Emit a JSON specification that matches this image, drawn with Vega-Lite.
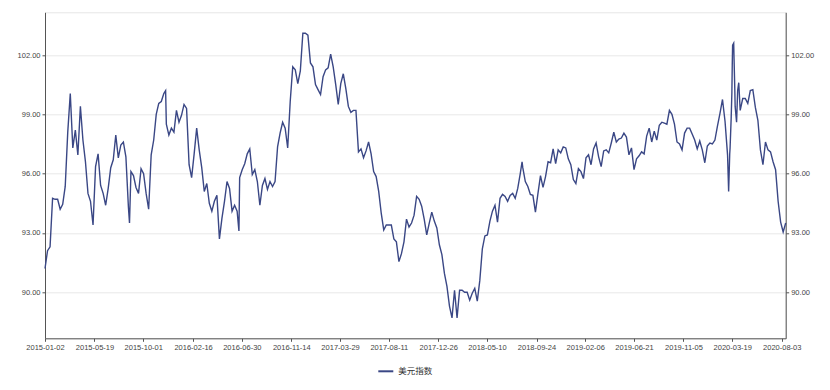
{
 "$schema": "https://vega.github.io/schema/vega-lite/v6.json",
 "width": 740.7,
 "height": 326,
 "autosize": {"type": "none"},
 "padding": {"left": 45, "top": 12.3, "right": 44.3, "bottom": 51.7},
 "background": "white",
 "config": {
  "font": "Liberation Sans",
  "view": {"stroke": "#e6e6e6", "strokeWidth": 1},
  "axis": {
   "labelFont": "Liberation Sans",
   "labelFontSize": 7.5,
   "labelColor": "#444444",
   "domainColor": "#555555",
   "tickColor": "#555555",
   "tickSize": 3,
   "labelPadding": 2,
   "title": null,
   "gridColor": "#e8e8e8",
   "gridWidth": 1
  }
 },
 "data": {"values": [
  {"date":"2015-01-02","v":91.2},{"date":"2015-01-09","v":92.1},{"date":"2015-01-16","v":92.3},{"date":"2015-01-23","v":94.75},{"date":"2015-01-30","v":94.7},
  {"date":"2015-02-06","v":94.7},{"date":"2015-02-13","v":94.2},{"date":"2015-02-20","v":94.45},{"date":"2015-02-27","v":95.35},
  {"date":"2015-03-06","v":98.1},{"date":"2015-03-13","v":100.05},{"date":"2015-03-20","v":97.3},{"date":"2015-03-27","v":98.2},
  {"date":"2015-04-03","v":96.95},{"date":"2015-04-10","v":99.4},{"date":"2015-04-17","v":97.7},{"date":"2015-04-24","v":96.6},
  {"date":"2015-05-01","v":95.0},{"date":"2015-05-08","v":94.6},{"date":"2015-05-15","v":93.4},{"date":"2015-05-22","v":96.35},{"date":"2015-05-29","v":97.0},
  {"date":"2015-06-05","v":95.4},{"date":"2015-06-12","v":95.0},{"date":"2015-06-19","v":94.4},{"date":"2015-06-26","v":95.25},
  {"date":"2015-07-03","v":96.3},{"date":"2015-07-10","v":96.7},{"date":"2015-07-17","v":97.95},{"date":"2015-07-24","v":96.8},{"date":"2015-07-31","v":97.45},
  {"date":"2015-08-07","v":97.6},{"date":"2015-08-14","v":96.85},{"date":"2015-08-21","v":94.3},{"date":"2015-08-24","v":93.5},{"date":"2015-08-28","v":96.1},
  {"date":"2015-09-04","v":95.9},{"date":"2015-09-11","v":95.3},{"date":"2015-09-18","v":95.0},{"date":"2015-09-25","v":96.25},
  {"date":"2015-10-02","v":96.0},{"date":"2015-10-09","v":95.0},{"date":"2015-10-16","v":94.2},{"date":"2015-10-23","v":96.95},{"date":"2015-10-30","v":97.7},
  {"date":"2015-11-06","v":99.0},{"date":"2015-11-13","v":99.55},{"date":"2015-11-20","v":99.65},{"date":"2015-11-27","v":100.05},
  {"date":"2015-12-02","v":100.2},{"date":"2015-12-04","v":98.5},{"date":"2015-12-11","v":97.95},{"date":"2015-12-18","v":98.3},{"date":"2015-12-25","v":98.1},
  {"date":"2016-01-01","v":99.2},{"date":"2016-01-08","v":98.6},{"date":"2016-01-15","v":98.95},{"date":"2016-01-22","v":99.5},{"date":"2016-01-29","v":99.3},
  {"date":"2016-02-05","v":96.45},{"date":"2016-02-12","v":95.8},{"date":"2016-02-19","v":97.0},{"date":"2016-02-26","v":98.3},
  {"date":"2016-03-04","v":97.2},{"date":"2016-03-11","v":96.3},{"date":"2016-03-18","v":95.1},{"date":"2016-03-25","v":95.5},
  {"date":"2016-04-01","v":94.5},{"date":"2016-04-08","v":94.1},{"date":"2016-04-15","v":94.6},{"date":"2016-04-22","v":94.9},{"date":"2016-04-29","v":92.7},
  {"date":"2016-05-06","v":93.75},{"date":"2016-05-13","v":94.6},{"date":"2016-05-20","v":95.6},{"date":"2016-05-27","v":95.25},
  {"date":"2016-06-03","v":94.1},{"date":"2016-06-10","v":94.4},{"date":"2016-06-17","v":94.1},{"date":"2016-06-22","v":93.1},{"date":"2016-06-24","v":95.8},
  {"date":"2016-07-01","v":96.2},{"date":"2016-07-08","v":96.5},{"date":"2016-07-15","v":97.0},{"date":"2016-07-22","v":97.25},{"date":"2016-07-29","v":95.95},
  {"date":"2016-08-05","v":96.2},{"date":"2016-08-12","v":95.6},{"date":"2016-08-19","v":94.4},{"date":"2016-08-26","v":95.4},
  {"date":"2016-09-02","v":95.75},{"date":"2016-09-09","v":95.2},{"date":"2016-09-16","v":95.6},{"date":"2016-09-23","v":95.35},{"date":"2016-09-30","v":95.6},
  {"date":"2016-10-07","v":97.35},{"date":"2016-10-14","v":98.05},{"date":"2016-10-21","v":98.6},{"date":"2016-10-28","v":98.3},
  {"date":"2016-11-04","v":97.3},{"date":"2016-11-11","v":99.65},{"date":"2016-11-18","v":101.4},{"date":"2016-11-25","v":101.25},
  {"date":"2016-12-02","v":100.55},{"date":"2016-12-09","v":101.2},{"date":"2016-12-16","v":103.1},{"date":"2016-12-23","v":103.1},{"date":"2016-12-30","v":103.0},
  {"date":"2017-01-06","v":101.6},{"date":"2017-01-13","v":101.4},{"date":"2017-01-20","v":100.5},{"date":"2017-01-27","v":100.25},
  {"date":"2017-02-03","v":100.0},{"date":"2017-02-10","v":100.9},{"date":"2017-02-17","v":101.25},{"date":"2017-02-24","v":101.35},
  {"date":"2017-03-03","v":102.05},{"date":"2017-03-10","v":101.4},{"date":"2017-03-17","v":100.5},{"date":"2017-03-24","v":99.5},{"date":"2017-03-31","v":100.55},
  {"date":"2017-04-07","v":101.05},{"date":"2017-04-14","v":100.3},{"date":"2017-04-21","v":99.4},{"date":"2017-04-28","v":99.1},
  {"date":"2017-05-05","v":99.2},{"date":"2017-05-12","v":99.2},{"date":"2017-05-19","v":97.1},{"date":"2017-05-26","v":97.25},
  {"date":"2017-06-02","v":96.8},{"date":"2017-06-09","v":97.15},{"date":"2017-06-16","v":97.6},{"date":"2017-06-23","v":97.0},{"date":"2017-06-30","v":96.1},
  {"date":"2017-07-07","v":95.85},{"date":"2017-07-14","v":95.1},{"date":"2017-07-21","v":94.0},{"date":"2017-07-28","v":93.15},
  {"date":"2017-08-04","v":93.4},{"date":"2017-08-11","v":93.4},{"date":"2017-08-18","v":93.4},{"date":"2017-08-25","v":92.7},
  {"date":"2017-09-01","v":92.55},{"date":"2017-09-08","v":91.55},{"date":"2017-09-15","v":91.95},{"date":"2017-09-22","v":92.55},{"date":"2017-09-29","v":93.7},
  {"date":"2017-10-06","v":93.3},{"date":"2017-10-13","v":93.5},{"date":"2017-10-20","v":93.9},{"date":"2017-10-27","v":94.85},
  {"date":"2017-11-03","v":94.7},{"date":"2017-11-10","v":94.35},{"date":"2017-11-17","v":93.7},{"date":"2017-11-24","v":92.9},
  {"date":"2017-12-01","v":93.5},{"date":"2017-12-08","v":94.05},{"date":"2017-12-15","v":93.6},{"date":"2017-12-22","v":93.25},{"date":"2017-12-29","v":92.4},
  {"date":"2018-01-05","v":91.9},{"date":"2018-01-12","v":90.95},{"date":"2018-01-19","v":90.3},{"date":"2018-01-26","v":89.3},
  {"date":"2018-02-02","v":88.7},{"date":"2018-02-09","v":90.1},{"date":"2018-02-16","v":88.7},{"date":"2018-02-23","v":90.1},
  {"date":"2018-03-02","v":90.1},{"date":"2018-03-09","v":90.0},{"date":"2018-03-16","v":90.0},{"date":"2018-03-23","v":89.6},{"date":"2018-03-30","v":89.95},
  {"date":"2018-04-06","v":90.2},{"date":"2018-04-13","v":89.55},{"date":"2018-04-20","v":90.6},{"date":"2018-04-27","v":92.2},
  {"date":"2018-05-04","v":92.85},{"date":"2018-05-11","v":92.9},{"date":"2018-05-18","v":93.6},{"date":"2018-05-25","v":94.1},
  {"date":"2018-06-01","v":94.4},{"date":"2018-06-08","v":93.55},{"date":"2018-06-15","v":94.75},{"date":"2018-06-22","v":94.95},{"date":"2018-06-29","v":94.85},
  {"date":"2018-07-06","v":94.6},{"date":"2018-07-13","v":94.9},{"date":"2018-07-20","v":95.0},{"date":"2018-07-27","v":94.75},
  {"date":"2018-08-03","v":95.25},{"date":"2018-08-10","v":96.0},{"date":"2018-08-15","v":96.6},{"date":"2018-08-17","v":96.3},{"date":"2018-08-24","v":95.6},{"date":"2018-08-31","v":95.35},
  {"date":"2018-09-07","v":94.95},{"date":"2018-09-14","v":94.9},{"date":"2018-09-21","v":94.05},{"date":"2018-09-28","v":95.0},
  {"date":"2018-10-05","v":95.9},{"date":"2018-10-12","v":95.3},{"date":"2018-10-19","v":95.85},{"date":"2018-10-26","v":96.6},
  {"date":"2018-11-02","v":96.55},{"date":"2018-11-09","v":97.25},{"date":"2018-11-16","v":96.5},{"date":"2018-11-23","v":97.2},{"date":"2018-11-30","v":97.05},
  {"date":"2018-12-07","v":97.35},{"date":"2018-12-14","v":97.3},{"date":"2018-12-21","v":96.75},{"date":"2018-12-28","v":96.45},
  {"date":"2019-01-04","v":95.7},{"date":"2019-01-11","v":95.5},{"date":"2019-01-18","v":96.25},{"date":"2019-01-25","v":96.1},
  {"date":"2019-02-01","v":95.75},{"date":"2019-02-08","v":96.8},{"date":"2019-02-15","v":96.95},{"date":"2019-02-22","v":96.45},
  {"date":"2019-03-01","v":97.25},{"date":"2019-03-08","v":97.55},{"date":"2019-03-15","v":96.85},{"date":"2019-03-22","v":96.35},{"date":"2019-03-29","v":97.15},
  {"date":"2019-04-05","v":97.2},{"date":"2019-04-12","v":97.05},{"date":"2019-04-19","v":97.55},{"date":"2019-04-26","v":98.1},
  {"date":"2019-05-03","v":97.6},{"date":"2019-05-10","v":97.75},{"date":"2019-05-17","v":97.8},{"date":"2019-05-24","v":98.05},{"date":"2019-05-31","v":97.85},
  {"date":"2019-06-07","v":96.95},{"date":"2019-06-14","v":97.3},{"date":"2019-06-21","v":96.2},{"date":"2019-06-28","v":96.75},
  {"date":"2019-07-05","v":96.9},{"date":"2019-07-12","v":97.1},{"date":"2019-07-19","v":97.0},{"date":"2019-07-26","v":97.9},
  {"date":"2019-08-02","v":98.3},{"date":"2019-08-09","v":97.6},{"date":"2019-08-16","v":98.15},{"date":"2019-08-23","v":97.7},{"date":"2019-08-30","v":98.45},
  {"date":"2019-09-06","v":98.6},{"date":"2019-09-13","v":98.55},{"date":"2019-09-20","v":98.5},{"date":"2019-09-27","v":99.2},
  {"date":"2019-10-04","v":99.0},{"date":"2019-10-11","v":98.5},{"date":"2019-10-18","v":97.6},{"date":"2019-10-25","v":97.5},
  {"date":"2019-11-01","v":97.2},{"date":"2019-11-08","v":98.05},{"date":"2019-11-15","v":98.3},{"date":"2019-11-22","v":98.3},{"date":"2019-11-29","v":98.0},
  {"date":"2019-12-06","v":97.7},{"date":"2019-12-13","v":97.25},{"date":"2019-12-20","v":97.65},{"date":"2019-12-27","v":97.2},
  {"date":"2020-01-03","v":96.55},{"date":"2020-01-10","v":97.4},{"date":"2020-01-17","v":97.55},{"date":"2020-01-24","v":97.5},{"date":"2020-01-31","v":97.7},
  {"date":"2020-02-07","v":98.4},{"date":"2020-02-14","v":99.05},{"date":"2020-02-21","v":99.75},{"date":"2020-02-28","v":98.65},
  {"date":"2020-03-06","v":96.95},{"date":"2020-03-09","v":95.1},{"date":"2020-03-12","v":97.0},{"date":"2020-03-13","v":97.3},{"date":"2020-03-16","v":98.8},
  {"date":"2020-03-18","v":100.1},{"date":"2020-03-19","v":101.5},{"date":"2020-03-20","v":102.5},{"date":"2020-03-23","v":102.6},{"date":"2020-03-24","v":101.8},
  {"date":"2020-03-26","v":100.3},{"date":"2020-03-27","v":99.4},{"date":"2020-03-31","v":98.6},
  {"date":"2020-04-03","v":100.2},{"date":"2020-04-06","v":100.6},{"date":"2020-04-10","v":99.2},{"date":"2020-04-17","v":99.8},{"date":"2020-04-24","v":99.8},
  {"date":"2020-05-01","v":99.55},{"date":"2020-05-08","v":100.2},{"date":"2020-05-15","v":100.25},{"date":"2020-05-22","v":99.35},{"date":"2020-05-29","v":98.7},
  {"date":"2020-06-05","v":97.2},{"date":"2020-06-12","v":96.45},{"date":"2020-06-19","v":97.6},{"date":"2020-06-26","v":97.2},
  {"date":"2020-07-03","v":97.1},{"date":"2020-07-10","v":96.6},{"date":"2020-07-17","v":96.2},{"date":"2020-07-24","v":94.6},{"date":"2020-07-31","v":93.55},
  {"date":"2020-08-07","v":93.05},{"date":"2020-08-14","v":93.5}
 ]},
 "encoding": {
  "x": {
   "field": "date",
   "type": "temporal",
   "scale": {"type": "utc", "domain": [{"year": 2015, "month": 1, "date": 2, "utc": true}, {"year": 2020, "month": 8, "date": 14, "utc": true}]},
   "axis": {
    "format": "%Y-%m-%d",
    "labelAngle": 0,
    "labelFlush": false,
    "labelOverlap": false,
    "labelBound": false,
    "grid": false,
    "values": [
     {"year": 2015, "month": 1, "date": 2, "utc": true},
     {"year": 2015, "month": 5, "date": 19, "utc": true},
     {"year": 2015, "month": 10, "date": 1, "utc": true},
     {"year": 2016, "month": 2, "date": 16, "utc": true},
     {"year": 2016, "month": 6, "date": 30, "utc": true},
     {"year": 2016, "month": 11, "date": 14, "utc": true},
     {"year": 2017, "month": 3, "date": 29, "utc": true},
     {"year": 2017, "month": 8, "date": 11, "utc": true},
     {"year": 2017, "month": 12, "date": 26, "utc": true},
     {"year": 2018, "month": 5, "date": 10, "utc": true},
     {"year": 2018, "month": 9, "date": 24, "utc": true},
     {"year": 2019, "month": 2, "date": 6, "utc": true},
     {"year": 2019, "month": 6, "date": 21, "utc": true},
     {"year": 2019, "month": 11, "date": 5, "utc": true},
     {"year": 2020, "month": 3, "date": 19, "utc": true},
     {"year": 2020, "month": 8, "date": 3, "utc": true}
    ]
   }
  }
 },
 "layer": [
  {
   "mark": {"type": "line", "strokeWidth": 1.4, "interpolate": "linear"},
   "encoding": {
    "y": {
     "field": "v", "type": "quantitative",
     "scale": {"domain": [87.67, 104.16], "zero": false, "nice": false},
     "axis": {"orient": "left", "values": [90, 93, 96, 99, 102], "format": ".2f", "grid": true}
    },
    "color": {
     "datum": "美元指数", "type": "nominal",
     "scale": {"range": ["#3a4785"]},
     "legend": {
      "title": null, "orient": "none", "legendX": 332.3, "legendY": 350.5,
      "symbolType": "stroke", "symbolSize": 225, "symbolStrokeWidth": 2,
      "labelFont": "Noto Sans CJK SC", "labelFontSize": 8.5, "labelColor": "#333333",
      "labelOffset": 4, "padding": 0
     }
    }
   }
  },
  {
   "mark": {"type": "line", "opacity": 0},
   "encoding": {
    "y": {
     "field": "v", "type": "quantitative",
     "scale": {"domain": [87.67, 104.16], "zero": false, "nice": false},
     "axis": {"orient": "right", "values": [90, 93, 96, 99, 102], "format": ".2f", "grid": false}
    }
   }
  }
 ],
 "resolve": {"axis": {"y": "independent"}}
}
